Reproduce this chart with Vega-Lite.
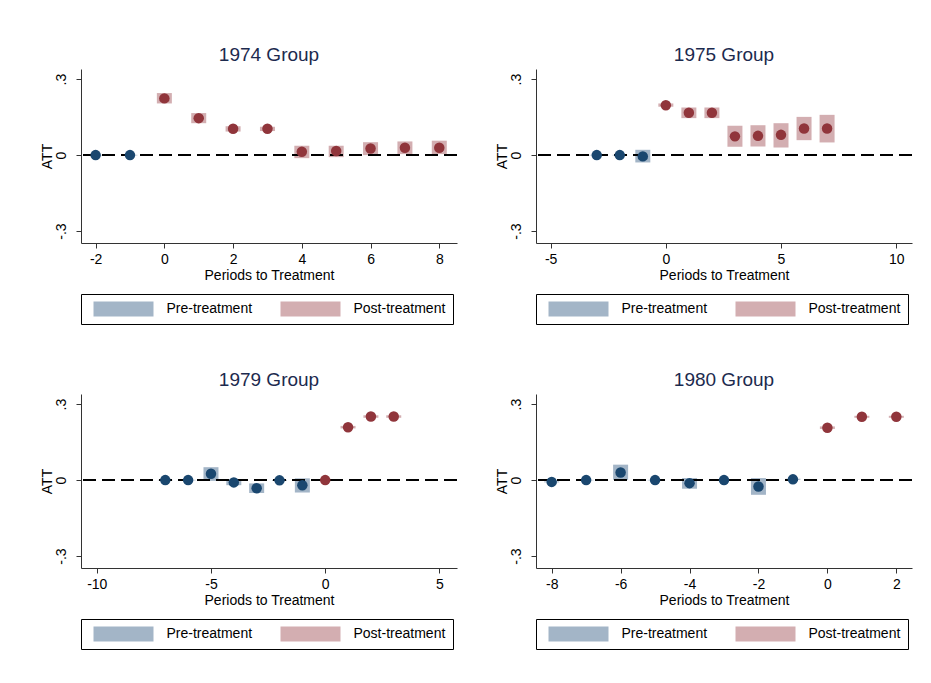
{
  "$schema": "https://vega.github.io/schema/vega-lite/v6.json",
  "background": "white",
  "padding": {"left": 40, "top": 46, "right": 5, "bottom": 5},
  "datasets": {
    "att": [
      {"g": "1974", "t": -2, "att": 0.0, "lo": -0.001, "hi": 0.001, "phase": "Pre-treatment"},
      {"g": "1974", "t": -1, "att": 0.0, "lo": -0.001, "hi": 0.001, "phase": "Pre-treatment"},
      {"g": "1974", "t": 0, "att": 0.224, "lo": 0.204, "hi": 0.245, "phase": "Post-treatment"},
      {"g": "1974", "t": 1, "att": 0.146, "lo": 0.126, "hi": 0.166, "phase": "Post-treatment"},
      {"g": "1974", "t": 2, "att": 0.104, "lo": 0.093, "hi": 0.114, "phase": "Post-treatment"},
      {"g": "1974", "t": 3, "att": 0.104, "lo": 0.095, "hi": 0.112, "phase": "Post-treatment"},
      {"g": "1974", "t": 4, "att": 0.013, "lo": -0.012, "hi": 0.037, "phase": "Post-treatment"},
      {"g": "1974", "t": 5, "att": 0.016, "lo": -0.008, "hi": 0.037, "phase": "Post-treatment"},
      {"g": "1974", "t": 6, "att": 0.026, "lo": 0.0, "hi": 0.051, "phase": "Post-treatment"},
      {"g": "1974", "t": 7, "att": 0.029, "lo": 0.004, "hi": 0.054, "phase": "Post-treatment"},
      {"g": "1974", "t": 8, "att": 0.029, "lo": 0.004, "hi": 0.057, "phase": "Post-treatment"},
      {"g": "1975", "t": -3, "att": 0.0, "lo": -0.001, "hi": 0.001, "phase": "Pre-treatment"},
      {"g": "1975", "t": -2, "att": 0.0, "lo": -0.001, "hi": 0.001, "phase": "Pre-treatment"},
      {"g": "1975", "t": -1, "att": -0.005, "lo": -0.029, "hi": 0.021, "phase": "Pre-treatment"},
      {"g": "1975", "t": 0, "att": 0.197, "lo": 0.191, "hi": 0.204, "phase": "Post-treatment"},
      {"g": "1975", "t": 1, "att": 0.167, "lo": 0.146, "hi": 0.188, "phase": "Post-treatment"},
      {"g": "1975", "t": 2, "att": 0.167, "lo": 0.146, "hi": 0.188, "phase": "Post-treatment"},
      {"g": "1975", "t": 3, "att": 0.074, "lo": 0.033, "hi": 0.116, "phase": "Post-treatment"},
      {"g": "1975", "t": 4, "att": 0.076, "lo": 0.034, "hi": 0.118, "phase": "Post-treatment"},
      {"g": "1975", "t": 5, "att": 0.08, "lo": 0.03, "hi": 0.126, "phase": "Post-treatment"},
      {"g": "1975", "t": 6, "att": 0.105, "lo": 0.059, "hi": 0.151, "phase": "Post-treatment"},
      {"g": "1975", "t": 7, "att": 0.105, "lo": 0.05, "hi": 0.159, "phase": "Post-treatment"},
      {"g": "1979", "t": -7, "att": 0.0, "lo": -0.001, "hi": 0.001, "phase": "Pre-treatment"},
      {"g": "1979", "t": -6, "att": 0.0, "lo": -0.001, "hi": 0.001, "phase": "Pre-treatment"},
      {"g": "1979", "t": -5, "att": 0.025, "lo": -0.003, "hi": 0.051, "phase": "Pre-treatment"},
      {"g": "1979", "t": -4, "att": -0.009, "lo": -0.02, "hi": 0.003, "phase": "Pre-treatment"},
      {"g": "1979", "t": -3, "att": -0.032, "lo": -0.051, "hi": -0.013, "phase": "Pre-treatment"},
      {"g": "1979", "t": -2, "att": -0.001, "lo": -0.003, "hi": 0.001, "phase": "Pre-treatment"},
      {"g": "1979", "t": -1, "att": -0.02, "lo": -0.049, "hi": 0.007, "phase": "Pre-treatment"},
      {"g": "1979", "t": 0, "att": 0.0, "lo": -0.002, "hi": 0.002, "phase": "Post-treatment"},
      {"g": "1979", "t": 1, "att": 0.209, "lo": 0.204, "hi": 0.214, "phase": "Post-treatment"},
      {"g": "1979", "t": 2, "att": 0.251, "lo": 0.246, "hi": 0.256, "phase": "Post-treatment"},
      {"g": "1979", "t": 3, "att": 0.251, "lo": 0.246, "hi": 0.256, "phase": "Post-treatment"},
      {"g": "1980", "t": -8, "att": -0.007, "lo": -0.009, "hi": -0.005, "phase": "Pre-treatment"},
      {"g": "1980", "t": -7, "att": 0.0, "lo": -0.001, "hi": 0.001, "phase": "Pre-treatment"},
      {"g": "1980", "t": -6, "att": 0.03, "lo": 0.001, "hi": 0.061, "phase": "Pre-treatment"},
      {"g": "1980", "t": -5, "att": 0.0, "lo": -0.001, "hi": 0.001, "phase": "Pre-treatment"},
      {"g": "1980", "t": -4, "att": -0.012, "lo": -0.034, "hi": 0.008, "phase": "Pre-treatment"},
      {"g": "1980", "t": -3, "att": 0.0, "lo": -0.001, "hi": 0.001, "phase": "Pre-treatment"},
      {"g": "1980", "t": -2, "att": -0.025, "lo": -0.058, "hi": 0.008, "phase": "Pre-treatment"},
      {"g": "1980", "t": -1, "att": 0.003, "lo": 0.001, "hi": 0.005, "phase": "Pre-treatment"},
      {"g": "1980", "t": 0, "att": 0.207, "lo": 0.202, "hi": 0.212, "phase": "Post-treatment"},
      {"g": "1980", "t": 1, "att": 0.25, "lo": 0.246, "hi": 0.254, "phase": "Post-treatment"},
      {"g": "1980", "t": 2, "att": 0.25, "lo": 0.246, "hi": 0.254, "phase": "Post-treatment"}
    ]
  },
  "data": {"name": "att"},
  "columns": 2,
  "spacing": {"row": 46, "column": 37},
  "resolve": {
    "scale": {"x": "independent", "y": "independent", "fill": "independent"},
    "legend": {"fill": "independent"}
  },
  "concat": [
    {
      "title": "1974 Group",
      "width": 376, "height": 174,
      "transform": [{"filter": "datum.g == '1974'"}],
      "layer": [
        {
          "mark": {"type": "bar", "size": 15},
          "encoding": {
            "x": {"field": "t", "type": "quantitative", "scale": {"domain": [-2.28, 8.37], "nice": false, "zero": false}, "axis": {"values": [-2, 0, 2, 4, 6, 8], "title": "Periods to Treatment"}},
            "y": {"field": "lo", "type": "quantitative", "scale": {"domain": [-0.347, 0.34], "nice": false, "zero": false}, "axis": {"values": [-0.3, 0, 0.3], "title": "ATT"}},
            "y2": {"field": "hi"},
            "fill": {"field": "phase", "type": "nominal", "scale": {"domain": ["Pre-treatment", "Post-treatment"], "range": ["#a3b5c7", "#d3aeb1"]}, "legend": {"title": null}}
          }
        },
        {"mark": {"type": "rule", "color": "black", "strokeDash": [13, 6], "strokeWidth": 1.5}, "encoding": {"y": {"datum": 0}}},
        {
          "mark": {"type": "circle", "size": 110, "opacity": 1},
          "encoding": {
            "x": {"field": "t", "type": "quantitative"},
            "y": {"field": "att", "type": "quantitative"},
            "color": {"condition": {"test": "datum.phase == 'Pre-treatment'", "value": "#1a476f"}, "value": "#90353b"}
          }
        }
      ]
    },
    {
      "title": "1975 Group",
      "width": 376, "height": 174,
      "transform": [{"filter": "datum.g == '1975'"}],
      "layer": [
        {
          "mark": {"type": "bar", "size": 15},
          "encoding": {
            "x": {"field": "t", "type": "quantitative", "scale": {"domain": [-5.42, 10.47], "nice": false, "zero": false}, "axis": {"values": [-5, 0, 5, 10], "title": "Periods to Treatment"}},
            "y": {"field": "lo", "type": "quantitative", "scale": {"domain": [-0.347, 0.34], "nice": false, "zero": false}, "axis": {"values": [-0.3, 0, 0.3], "title": "ATT"}},
            "y2": {"field": "hi"},
            "fill": {"field": "phase", "type": "nominal", "scale": {"domain": ["Pre-treatment", "Post-treatment"], "range": ["#a3b5c7", "#d3aeb1"]}, "legend": {"title": null}}
          }
        },
        {"mark": {"type": "rule", "color": "black", "strokeDash": [13, 6], "strokeWidth": 1.5}, "encoding": {"y": {"datum": 0}}},
        {
          "mark": {"type": "circle", "size": 110, "opacity": 1},
          "encoding": {
            "x": {"field": "t", "type": "quantitative"},
            "y": {"field": "att", "type": "quantitative"},
            "color": {"condition": {"test": "datum.phase == 'Pre-treatment'", "value": "#1a476f"}, "value": "#90353b"}
          }
        }
      ]
    },
    {
      "title": "1979 Group",
      "width": 376, "height": 174,
      "transform": [{"filter": "datum.g == '1979'"}],
      "layer": [
        {
          "mark": {"type": "bar", "size": 15},
          "encoding": {
            "x": {"field": "t", "type": "quantitative", "scale": {"domain": [-10.47, 5.55], "nice": false, "zero": false}, "axis": {"values": [-10, -5, 0, 5], "title": "Periods to Treatment"}},
            "y": {"field": "lo", "type": "quantitative", "scale": {"domain": [-0.347, 0.34], "nice": false, "zero": false}, "axis": {"values": [-0.3, 0, 0.3], "title": "ATT"}},
            "y2": {"field": "hi"},
            "fill": {"field": "phase", "type": "nominal", "scale": {"domain": ["Pre-treatment", "Post-treatment"], "range": ["#a3b5c7", "#d3aeb1"]}, "legend": {"title": null}}
          }
        },
        {"mark": {"type": "rule", "color": "black", "strokeDash": [13, 6], "strokeWidth": 1.5}, "encoding": {"y": {"datum": 0}}},
        {
          "mark": {"type": "circle", "size": 110, "opacity": 1},
          "encoding": {
            "x": {"field": "t", "type": "quantitative"},
            "y": {"field": "att", "type": "quantitative"},
            "color": {"condition": {"test": "datum.phase == 'Pre-treatment'", "value": "#1a476f"}, "value": "#90353b"}
          }
        }
      ]
    },
    {
      "title": "1980 Group",
      "width": 376, "height": 174,
      "transform": [{"filter": "datum.g == '1980'"}],
      "layer": [
        {
          "mark": {"type": "bar", "size": 15},
          "encoding": {
            "x": {"field": "t", "type": "quantitative", "scale": {"domain": [-8.31, 2.31], "nice": false, "zero": false}, "axis": {"values": [-8, -6, -4, -2, 0, 2], "title": "Periods to Treatment"}},
            "y": {"field": "lo", "type": "quantitative", "scale": {"domain": [-0.347, 0.34], "nice": false, "zero": false}, "axis": {"values": [-0.3, 0, 0.3], "title": "ATT"}},
            "y2": {"field": "hi"},
            "fill": {"field": "phase", "type": "nominal", "scale": {"domain": ["Pre-treatment", "Post-treatment"], "range": ["#a3b5c7", "#d3aeb1"]}, "legend": {"title": null}}
          }
        },
        {"mark": {"type": "rule", "color": "black", "strokeDash": [13, 6], "strokeWidth": 1.5}, "encoding": {"y": {"datum": 0}}},
        {
          "mark": {"type": "circle", "size": 110, "opacity": 1},
          "encoding": {
            "x": {"field": "t", "type": "quantitative"},
            "y": {"field": "att", "type": "quantitative"},
            "color": {"condition": {"test": "datum.phase == 'Pre-treatment'", "value": "#1a476f"}, "value": "#90353b"}
          }
        }
      ]
    }
  ],
  "config": {
    "font": "Liberation Sans",
    "view": {"stroke": null},
    "title": {"fontSize": 19, "fontWeight": "normal", "color": "#1c2a4e", "offset": 4, "anchor": "middle", "font": "Liberation Sans"},
    "axis": {
      "grid": false,
      "domainColor": "#333333",
      "tickColor": "#333333",
      "tickSize": 5,
      "labelFontSize": 14,
      "labelColor": "black",
      "titleFontSize": 14,
      "titleFontWeight": "normal",
      "titleColor": "black",
      "labelFont": "Liberation Sans",
      "titleFont": "Liberation Sans"
    },
    "axisX": {"labelPadding": 4, "titlePadding": 2, "labelFlush": false, "labelExpr": "toString(datum.value)"},
    "axisY": {"labelAngle": -90, "labelPadding": 8, "titlePadding": 0, "labelFlush": false, "labelExpr": "datum.value == 0 ? '0' : replace(toString(datum.value), '0.', '.')"},
    "legend": {
      "orient": "bottom",
      "direction": "horizontal",
      "offset": 12,
      "symbolType": "M-4,-1H4V1H-4Z",
      "symbolSize": 225,
      "symbolOffset": 27.5,
      "symbolStrokeWidth": 0,
      "symbolOpacity": 1,
      "labelOffset": 35.5,
      "labelFontSize": 14,
      "labelFont": "Liberation Sans",
      "labelColor": "black",
      "columnPadding": 23,
      "padding": 7.5,
      "strokeColor": "black",
      "fillColor": "white"
    }
  }
}
